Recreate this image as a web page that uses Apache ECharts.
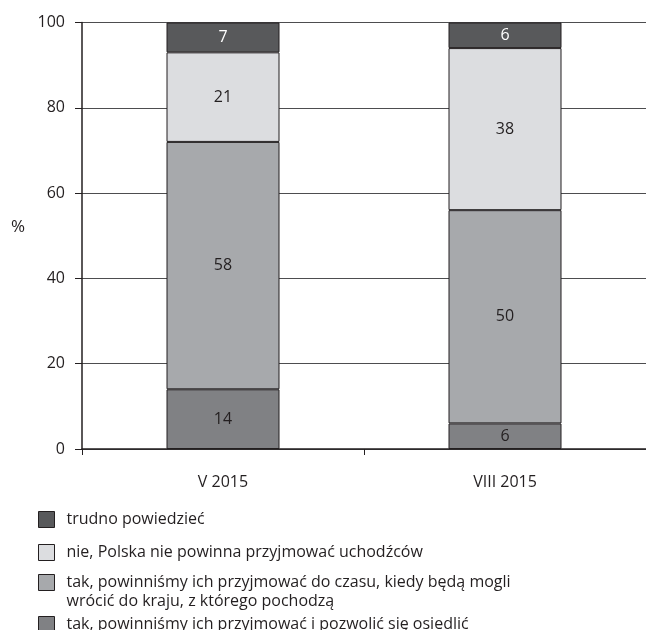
<!DOCTYPE html>
<html>
<head>
<meta charset="utf-8">
<script src="https://cdn.jsdelivr.net/npm/echarts@6/dist/echarts.min.js"></script>
<style>
html,body{margin:0;padding:0;background:#fff;}
#c{width:646px;height:630px;}
</style>
</head>
<body>
<div id="c"></div>
<script>
const categories = ['V 2015', 'VIII 2015'];
const yTicks = [0, 20, 40, 60, 80, 100];
const seriesNames = [
  'tak, powinniśmy ich przyjmować i pozwolić się osiedlić',
  'tak, powinniśmy ich przyjmować do czasu, kiedy będą mogli\nwrócić do kraju, z którego pochodzą',
  'nie, Polska nie powinna przyjmować uchodźców',
  'trudno powiedzieć'
];
const osiedlic = [14, 6];
const doCzasu = [58, 50];
const nie = [21, 38];
const trudno = [7, 6];

const seriesValues = [osiedlic, doCzasu, nie, trudno];
const colors = ['#808184', '#a7a9ac', '#dcdde0', '#58595b'];
const labelColors = ['#231f20', '#231f20', '#231f20', '#ffffff'];
const FONT = 'Open Sans';
const TXT = '#231f20';

const chart = echarts.init(document.getElementById('c'), null, {renderer: 'canvas'});

const series = seriesValues.map((vals, i) => ({
  name: seriesNames[i],
  type: 'bar',
  stack: 'total',
  data: vals,
  barWidth: 113,
  itemStyle: {color: colors[i], borderColor: '#231f20', borderWidth: 1},
  label: {show: true, position: 'inside', color: labelColors[i], fontFamily: FONT, fontSize: 16},
  emphasis: {disabled: true}
}));

const legendTops = [505, 538, 549, 610];
const legendOrder = [3, 2, 1, 0];
const legends = legendOrder.map((si, k) => ({
  data: [seriesNames[si]],
  orient: 'vertical',
  left: 33,
  top: legendTops[k],
  itemWidth: 16,
  itemHeight: 16,
  selectedMode: false,
  icon: 'rect',
  itemStyle: {borderColor: '#231f20', borderWidth: 1},
  textStyle: {fontFamily: FONT, fontSize: 16, color: TXT, lineHeight: 19, padding: [0, 0, 0, 7]},
  formatter: (name) => name.indexOf('\n') >= 0 ? ' \n' + name : name
}));

chart.setOption({
  animation: false,
  backgroundColor: '#ffffff',
  textStyle: {fontFamily: FONT},
  grid: {left: 82, right: 0, top: 22.5, bottom: 181, containLabel: false},
  legend: legends,
  xAxis: {
    type: 'category',
    data: categories,
    axisLine: {lineStyle: {color: '#231f20', width: 1.5}},
    axisTick: {show: true, length: 6, alignWithLabel: false, lineStyle: {color: '#231f20', width: 1}},
    axisLabel: {color: TXT, fontFamily: FONT, fontSize: 16, margin: 25},
    splitLine: {show: false}
  },
  yAxis: {
    type: 'value',
    min: yTicks[0],
    max: yTicks[yTicks.length - 1],
    interval: yTicks[1] - yTicks[0],
    name: '%',
    nameLocation: 'middle',
    nameRotate: 0,
    nameGap: 57,
    nameTextStyle: {color: TXT, fontFamily: FONT, fontSize: 17, verticalAlign: 'bottom'},
    axisLine: {show: true, lineStyle: {color: '#231f20', width: 1.5}},
    axisTick: {show: true, length: 7, lineStyle: {color: '#231f20', width: 1}},
    axisLabel: {color: TXT, fontFamily: FONT, fontSize: 16, margin: 17},
    splitLine: {show: true, lineStyle: {color: '#4d4d4f', width: 1}}
  },
  series: series
});
</script>
</body>
</html>
